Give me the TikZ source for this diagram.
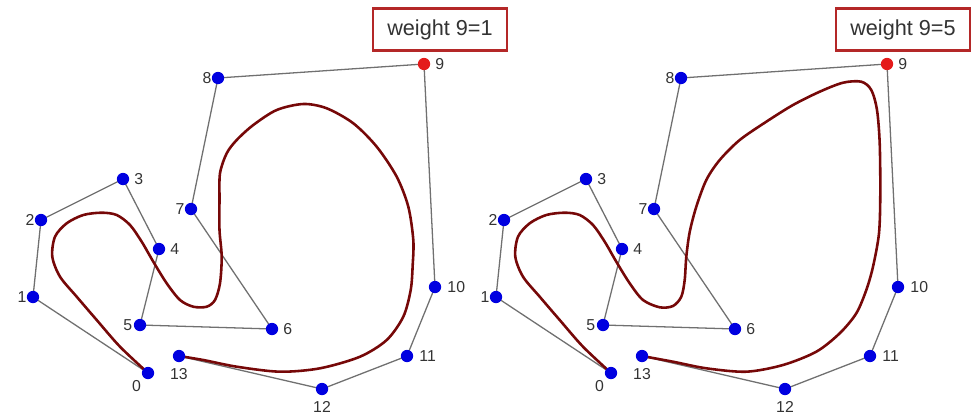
\documentclass[tikz,border=0pt]{standalone}
\usepackage{fontspec}
\setmainfont{Liberation Sans}
\usetikzlibrary{arrows.meta, calc}
\definecolor{cCtrl}{HTML}{0000E0}
\definecolor{cPeso}{HTML}{E41B1B}
\definecolor{cHull}{HTML}{707070}
\definecolor{cCurva}{HTML}{760808}
\definecolor{cCaja}{HTML}{B42828}
\tikzset{
    x=0.03cm, y=-0.03cm,
    cp/.style={circle, fill=cCtrl, inner sep=0pt, minimum size=10.5pt},
    cpw/.style={cp, fill=cPeso},
    hull/.style={draw=cHull, line width=1.1pt},
    nurbs/.style={draw=cCurva, line width=2.2pt, line join=round},
    lbl/.style={font=\fontsize{13.5}{15}\selectfont, text=black!80, inner sep=2pt},
    wbox/.style={draw=cCaja, line width=2pt, minimum width=4.02cm,
                 minimum height=1.26cm, font=\fontsize{18.5}{21}\selectfont,
                 text=black!80},
}
\newcommand{\panel}[3]{%
    \foreach \i/\px/\py in {0/148/373, 1/33/297, 2/41/220, 3/123/179,
        4/159/249, 5/140/325, 6/272/329, 7/191/209, 8/218/78, 9/424/64,
        10/435/287, 11/407/356, 12/322/389, 13/179/356}
        \coordinate (#1\i) at (\px,\py);

    \draw[hull] (#10) \foreach \i in {1,...,13} {-- (#1\i)};
    \draw[nurbs] plot[smooth] coordinates {#3};

    \foreach \i/\ang/\dist/\sty in {0/-135/0/cp, 1/180/-2/cp, 2/180/-2/cp,
        3/0/2/cp, 4/0/2/cp, 5/180/-1/cp, 6/0/2/cp, 7/180/-2/cp, 8/180/-2/cp,
        9/0/2/cpw, 10/0/3/cp, 11/0/3/cp, 12/-90/3/cp, 13/-90/3/cp}
        \node[\sty, label={[lbl, label distance=\dist pt]\ang:\i}]
            (#1p\i) at (#1\i) {};

    \node[wbox] (#1w) at (440,29.5) {weight 9=#2};
}

\begin{document}
\begin{tikzpicture}
    \useasboundingbox (0,0) rectangle (979,417);

    \panel{a}{1}{(148,373) (120,346.7) (96.7,320) (76.7,296.7) (60,276.7)
        (52.3,256.7) (55,236.7) (66.7,223.3) (83.3,215) (101.7,212.7)
        (116.7,215) (130,225) (141.7,241.7) (153.3,261.7) (166.7,283.3)
        (180,300) (193.3,306.7) (206.7,306.7) (215,300) (220,283.3)
        (221.7,256.7) (219.5,230) (219.5,200) (220,173.3) (226.7,153.3)
        (236.7,140) (253.3,125) (276.7,110) (303.3,104) (326.7,108.3)
        (353.3,123.3) (376.7,146.7) (396.7,176.7) (408.3,206.7)
        (413.3,240) (412.7,265) (410.7,290) (403.3,316.7) (386.7,340)
        (360,356.7) (320,368.3) (280,371.7) (236.7,366.7) (203.3,360)
        (179,356)}

    % same control polygon, only the weight of point 9 is raised
    \begin{scope}[shift={(463,0)}]
    \panel{b}{5}{(148,373) (120,346.7) (96.7,320) (76.7,296.7) (60,276.7)
        (52.3,256.7) (55,236.7) (66.7,223.3) (83.3,215) (101.7,212.7)
        (116.7,215) (130,225) (141.7,241.7) (153.3,261.7) (166.7,283.3)
        (180,300) (196.7,307.3) (210,306) (218.3,296.7) (221.7,280)
        (223.3,256.7) (226.7,232) (233.3,206.7) (243.3,180) (256.7,160)
        (276.7,140) (303.3,121.7) (330,105) (356.7,91.7) (380,82.7)
        (398.3,81.7) (408.3,90) (414,110) (416.7,143.3) (417.3,193.3)
        (416,233.3) (410,266.7) (403.3,290) (393.3,313.3) (376.7,333.3)
        (353.3,351.7) (320,365) (283.3,371.7) (243.3,368.3) (210,361.7)
        (179,356)}
    \end{scope}
\end{tikzpicture}
\end{document}
